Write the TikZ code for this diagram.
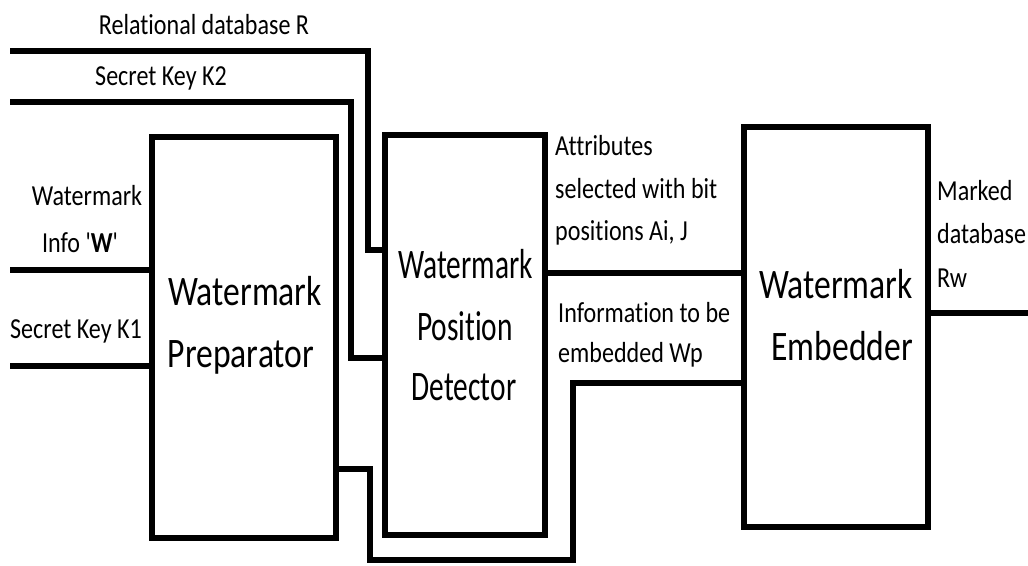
\documentclass[tikz,border=0pt]{standalone}
\usepackage{fontspec}
\newfontfamily\labfont[FakeStretch=0.83,Ligatures=NoCommon]{Carlito}
\newfontfamily\boxfont[FakeStretch=0.80,Ligatures=NoCommon]{Carlito}
\newfontfamily\detfont[FakeStretch=0.70,Ligatures=NoCommon]{Carlito}
\tikzset{
  x=1pt, y=-1pt,
  wire/.style={line width=6.5pt, line join=miter},
  block/.style={draw, line width=6.5pt, rectangle, inner sep=0pt, fill=white},
  lab/.style={inner sep=0pt, font=\labfont\fontsize{29}{43}\selectfont},
  big/.style={inner sep=0pt, font=\boxfont\fontsize{42}{62}\selectfont},
  bigdet/.style={inner sep=0pt, font=\detfont\fontsize{42}{62}\selectfont},
}
\begin{document}
\begin{tikzpicture}
\fill[white] (0,0) rectangle (1028,565);
\useasboundingbox (0,0) rectangle (1028,565);

% blocks
\node[block, minimum width=184pt, minimum height=401pt] (prep) at (244,337.5) {};
\node[block, minimum width=160pt, minimum height=400pt] (det) at (465,335) {};
\node[block, minimum width=184pt, minimum height=400pt] (emb) at (836,327) {};

% free ends
\coordinate (rIn) at (10,51);
\coordinate (k2In) at (10,102);
\coordinate (wIn) at (10,270);
\coordinate (k1In) at (10,366);
\coordinate (rwOut) at (1028,313);

% connectors
\draw[wire] (rIn) -- (368,51) -- (368,250) -- (det.west |- 0,250);
\draw[wire] (k2In) -- (351,102) -- (351,358) -- (det.west |- 0,358);
\draw[wire] (wIn) -- (prep.west |- 0,270);
\draw[wire] (k1In) -- (prep.west |- 0,366);
\draw[wire] (prep.east |- 0,469) -- (370,469) -- (370,560) -- (573,560) -- (573,383) -- (emb.west |- 0,383);
\draw[wire] (det.east |- 0,273) -- (emb.west |- 0,273);
\draw[wire] (emb.east |- 0,313) -- (rwOut);

% block texts
\node[big, anchor=base] (p1) at (245,305) {Watermark};
\node[big, anchor=base] (p2) at (241,367) {Preparator};
\node[bigdet, anchor=base] (d1) at (465.5,278) {Watermark};
\node[bigdet, anchor=base] (d2) at (465,340) {Position};
\node[bigdet, anchor=base] (d3) at (464,400) {Detector};
\node[big, anchor=base east] (e1) at (913,298) {Watermark};
\node[big, anchor=base east] (e2) at (913,360) {Embedder};

% labels
\node[lab, anchor=base] (lR) at (204,34) {Relational database R};
\node[lab, anchor=base] (lK2) at (161,85) {Secret Key K2};
\node[lab, anchor=base] (lW1) at (87,205) {Watermark};
\node[lab, anchor=base] (lW2) at (80,252) {Info '{\bfseries W}'};
\node[lab, anchor=base west] (lK1) at (10,338) {Secret Key K1};
\node[lab, anchor=base west] (lA1) at (555,155) {Attributes};
\node[lab, anchor=base west] (lA2) at (555,198) {selected with bit};
\node[lab, anchor=base west] (lA3) at (555,240) {positions Ai, J};
\node[lab, anchor=base west] (lI1) at (558,322) {Information to be};
\node[lab, anchor=base west] (lI2) at (558,362) {embedded Wp};
\node[lab, anchor=base west] (lM1) at (937,200) {Marked};
\node[lab, anchor=base west] (lM2) at (937,243) {database};
\node[lab, anchor=base west] (lM3) at (937,287) {Rw};
\end{tikzpicture}
\end{document}
